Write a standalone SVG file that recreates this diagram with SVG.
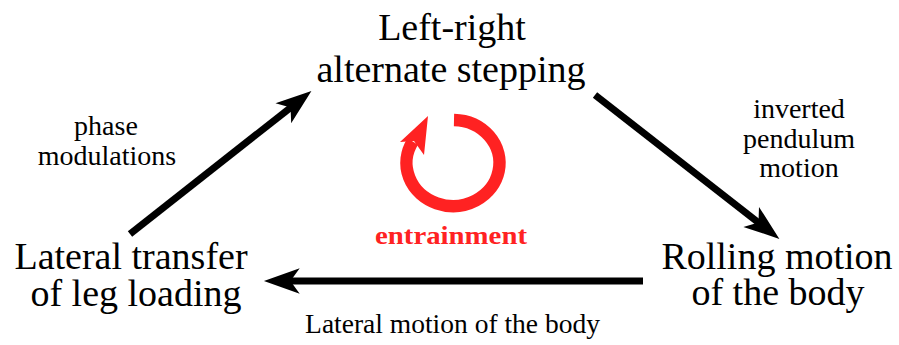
<svg xmlns="http://www.w3.org/2000/svg" width="899" height="345" viewBox="0 0 899 345">
<style>
.lbl{font-family:'Liberation Serif','DejaVu Serif',serif;fill:#000;text-anchor:middle}
.big{font-size:38px}
.small{font-size:28px}
.conn{stroke:#000;stroke-width:7;fill:none;marker-end:url(#ah)}
.red{fill:#ff2222}
</style>
<defs>
<marker id="ah" markerUnits="userSpaceOnUse" markerWidth="40" markerHeight="30" viewBox="-12 -13 34 26" refX="0" refY="0" orient="auto">
<path d="M20,0 L-11,-11 L-3,0 L-11,11 Z" fill="#000"/>
</marker>
</defs>
<rect width="899" height="345" fill="#fff"/>
<g id="connectors">
<line class="conn" x1="130" y1="234" x2="293.3" y2="105.4"/>
<line class="conn" x1="595" y1="95" x2="761.2" y2="224.7"/>
<line class="conn" x1="643" y1="281" x2="287" y2="281"/>
</g>
<g id="node-stepping">
<text class="lbl big" x="452" y="40" font-family="Liberation Serif">Left-right</text>
<text class="lbl big" x="451" y="82">alternate stepping</text>
</g>
<g id="node-rolling">
<text class="lbl big" x="777" y="269">Rolling motion</text>
<text class="lbl big" x="778" y="305">of the body</text>
</g>
<g id="node-lateral">
<text class="lbl big" x="131" y="269">Lateral transfer</text>
<text class="lbl big" x="136" y="306">of leg loading</text>
</g>
<g id="label-phase">
<text class="lbl small" x="106" y="135">phase</text>
<text class="lbl small" x="107" y="165">modulations</text>
</g>
<g id="label-inverted">
<text class="lbl small" x="799" y="118">inverted</text>
<text class="lbl small" x="799" y="148">pendulum</text>
<text class="lbl small" x="799" y="177">motion</text>
</g>
<g id="label-lateral-motion">
<text class="lbl" style="font-size:27.5px" x="452.5" y="333">Lateral motion of the body</text>
</g>
<g id="entrainment">
<path d="M454,120 A46.5,43 0 1 1 412.7,141.5" fill="none" stroke="#ff2222" stroke-width="12.5"/>
<polygon class="red" points="428,116 400,142 414,141 424,155"/>
<text x="451" y="244" textLength="152" lengthAdjust="spacingAndGlyphs" font-family="Liberation Serif, DejaVu Serif, serif" font-weight="bold" font-size="25" fill="#ff2222" text-anchor="middle">entrainment</text>
</g>
</svg>
